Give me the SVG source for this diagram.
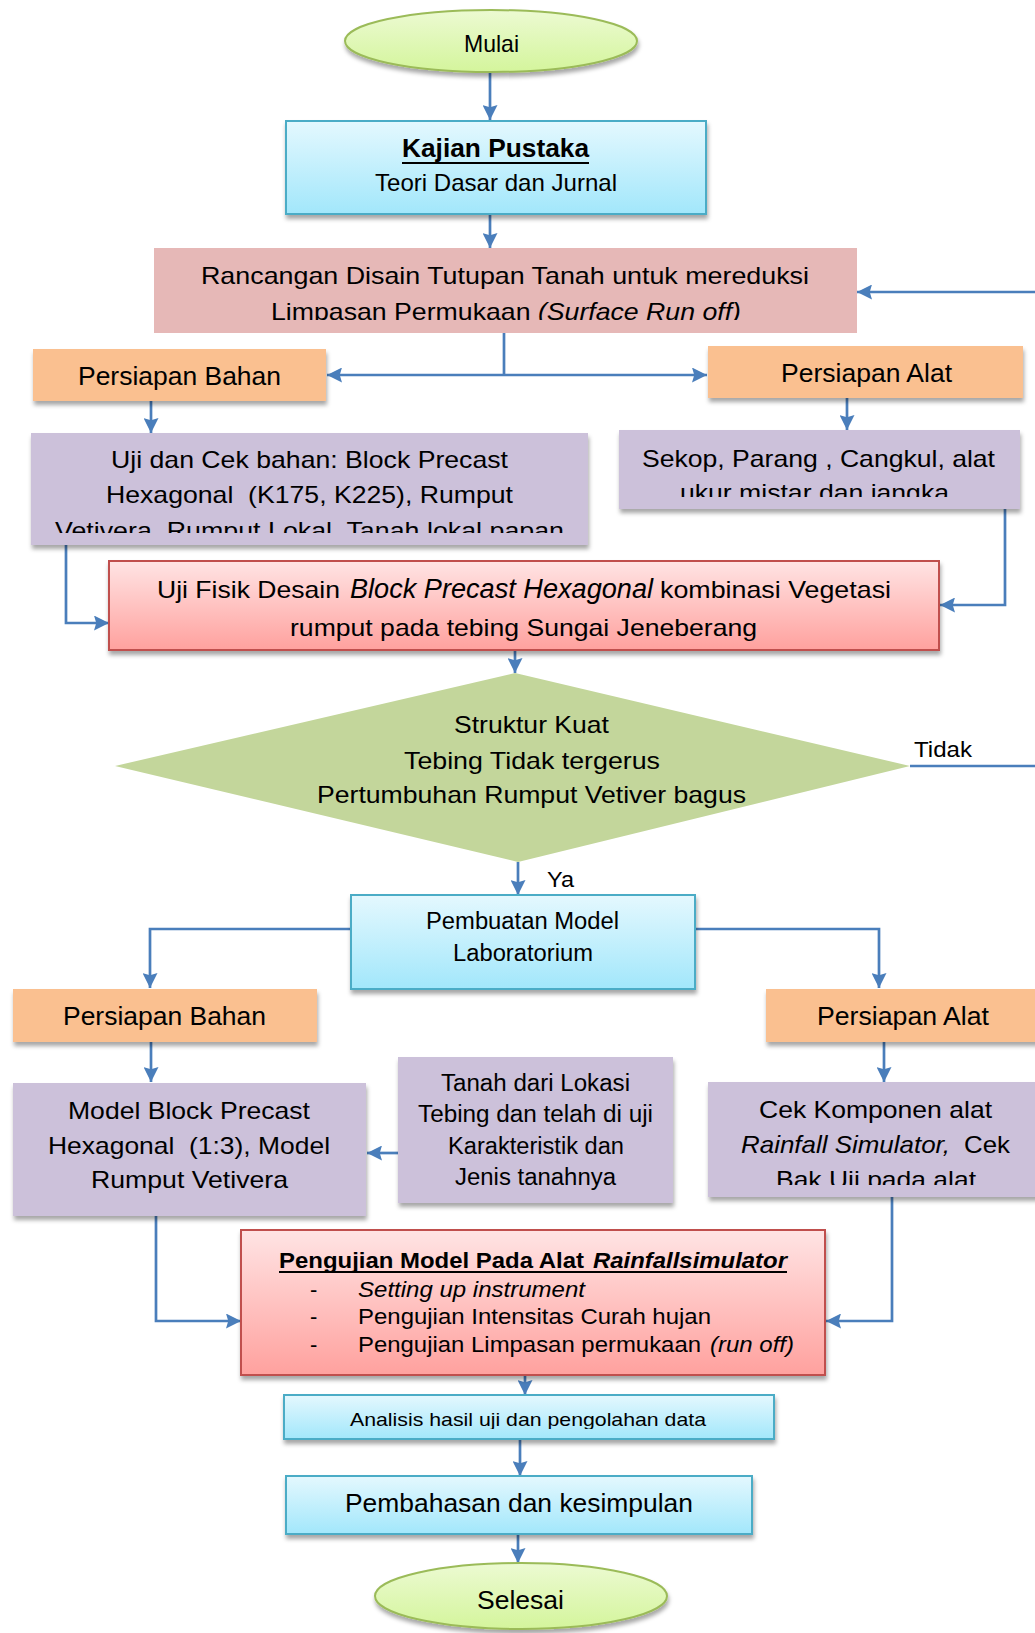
<svg xmlns="http://www.w3.org/2000/svg" width="1035" height="1633" viewBox="0 0 1035 1633">
<defs>
<linearGradient id="gBlue" x1="0" y1="0" x2="0" y2="1"><stop offset="0" stop-color="#e4f8fe"/><stop offset="1" stop-color="#a2e7fb"/></linearGradient>
<linearGradient id="gRed" x1="0" y1="0" x2="0" y2="1"><stop offset="0" stop-color="#ffe4e4"/><stop offset="1" stop-color="#ffa19e"/></linearGradient>
<linearGradient id="gGreen" x1="0" y1="0" x2="0" y2="1"><stop offset="0" stop-color="#ecfad2"/><stop offset="1" stop-color="#d4f59c"/></linearGradient>
<filter id="sh" x="-10%" y="-10%" width="120%" height="135%"><feDropShadow dx="1" dy="4" stdDeviation="2" flood-color="#000" flood-opacity="0.35"/></filter>
<marker id="ah" viewBox="0 0 10 10" refX="10" refY="5" markerWidth="15" markerHeight="15" markerUnits="userSpaceOnUse" orient="auto"><path d="M0,0 L10,5 L0,10 L1.5,5 z" fill="#4a7ebb"/></marker>
<clipPath id="cRan"><rect x="154" y="248" width="703" height="72"/></clipPath>
<clipPath id="cUji"><rect x="31" y="433" width="557" height="100"/></clipPath>
<clipPath id="cSek"><rect x="619" y="430" width="401" height="67"/></clipPath>
<clipPath id="cCek"><rect x="708" y="1082" width="340" height="103"/></clipPath>
<clipPath id="cAna"><rect x="284" y="1395" width="490" height="34"/></clipPath>
</defs>
<style>
text { font-family: "Liberation Sans", Arial, sans-serif; fill: #000; white-space: pre; }
.c { text-anchor: middle; }
.f24 { font-size: 24px; }
.f25 { font-size: 25px; }
.i { font-style: italic; }
.b { font-weight: bold; }
.ln { fill: none; stroke: #4a7ebb; stroke-width: 2.7; }
.ar { marker-end: url(#ah); }
.blue { fill: url(#gBlue); stroke: #4bacc6; stroke-width: 2; filter: url(#sh); }
.red { fill: url(#gRed); stroke: #c0504d; stroke-width: 2; filter: url(#sh); }
.oval { fill: url(#gGreen); stroke: #9bbb59; stroke-width: 2; filter: url(#sh); }
.org { fill: #fac090; filter: url(#sh); }
.pur { fill: #ccc1da; filter: url(#sh); }
.pink { fill: #e6b8b7; }
.dia { fill: #c3d69b; }
.ul { stroke: #000; stroke-width: 2; }
</style>

<g id="connectors">
<path class="ln ar" d="M490,72 L490,120"/>
<path class="ln ar" d="M490,214 L490,248"/>
<path class="ln ar" d="M1035,292 L857,292"/>
<path class="ln" d="M504,333 L504,375"/>
<path class="ln ar" d="M504,375 L327,375"/>
<path class="ln ar" d="M504,375 L707,375"/>
<path class="ln ar" d="M151,401 L151,433"/>
<path class="ln ar" d="M847,398 L847,430"/>
<path class="ln ar" d="M66,545 L66,623 L109,623"/>
<path class="ln ar" d="M1005,508 L1005,605 L940,605"/>
<path class="ln ar" d="M515,650 L515,673"/>
<path class="ln" d="M910,766 L1035,766"/>
<path class="ln ar" d="M518,862 L518,895"/>
<path class="ln ar" d="M350,929 L150,929 L150,988"/>
<path class="ln ar" d="M695,929 L879,929 L879,988"/>
<path class="ln ar" d="M151,1042 L151,1082"/>
<path class="ln ar" d="M884,1042 L884,1082"/>
<path class="ln ar" d="M398,1153 L367,1153"/>
<path class="ln ar" d="M156,1215 L156,1321 L241,1321"/>
<path class="ln ar" d="M892,1197 L892,1321 L826,1321"/>
<path class="ln ar" d="M525,1375 L525,1395"/>
<path class="ln ar" d="M520,1439 L520,1476"/>
<path class="ln ar" d="M518,1534 L518,1563"/>
</g>

<g id="mulai">
<ellipse class="oval" cx="491" cy="41" rx="146" ry="31"/>
<text class="f24 c" x="491.5" y="52" textLength="55" lengthAdjust="spacingAndGlyphs">Mulai</text>
</g>

<g id="kajian">
<rect class="blue" x="286" y="121" width="420" height="93"/>
<text class="b c" x="495.5" y="157" font-size="25" textLength="187" lengthAdjust="spacingAndGlyphs">Kajian Pustaka</text>
<line class="ul" x1="402" y1="163" x2="589" y2="163"/>
<text class="f24 c" x="496" y="191" textLength="242" lengthAdjust="spacingAndGlyphs">Teori Dasar dan Jurnal</text>
</g>

<g id="rancangan">
<rect class="pink" x="154" y="248" width="703" height="85"/>
<g clip-path="url(#cRan)">
<text class="f24 c" x="505" y="284" textLength="608" lengthAdjust="spacingAndGlyphs">Rancangan Disain Tutupan Tanah untuk mereduksi</text>
<text class="f24 c" x="506" y="320" textLength="470" lengthAdjust="spacingAndGlyphs">Limpasan Permukaan <tspan class="i">(Surface Run off)</tspan></text>
</g>
</g>

<g id="persiapan-bahan-1">
<rect class="org" x="33" y="349" width="293" height="52"/>
<text class="f25 c" x="179.5" y="385" textLength="203" lengthAdjust="spacingAndGlyphs">Persiapan Bahan</text>
</g>

<g id="persiapan-alat-1">
<rect class="org" x="708" y="346" width="315" height="52"/>
<text class="f25 c" x="866.5" y="382" textLength="171" lengthAdjust="spacingAndGlyphs">Persiapan Alat</text>
</g>

<g id="uji-cek">
<rect class="pur" x="31" y="433" width="557" height="112"/>
<g clip-path="url(#cUji)">
<text class="f24 c" x="309.5" y="468" textLength="397" lengthAdjust="spacingAndGlyphs">Uji dan Cek bahan: Block Precast</text>
<text class="f24 c" x="309.5" y="503" textLength="407" lengthAdjust="spacingAndGlyphs">Hexagonal  (K175, K225), Rumput</text>
<text class="f24 c" x="309.5" y="539" textLength="509" lengthAdjust="spacingAndGlyphs">Vetivera, Rumput Lokal, Tanah lokal papan</text>
</g>
</g>

<g id="sekop">
<rect class="pur" x="619" y="430" width="401" height="79"/>
<g clip-path="url(#cSek)">
<text class="f24 c" x="818.5" y="467" textLength="353" lengthAdjust="spacingAndGlyphs">Sekop, Parang , Cangkul, alat</text>
<text class="f24 c" x="814.5" y="501" textLength="269" lengthAdjust="spacingAndGlyphs">ukur mistar dan jangka</text>
</g>
</g>

<g id="uji-fisik">
<rect class="red" x="109" y="561" width="830" height="89"/>
<text class="f24" x="157" y="598" textLength="183" lengthAdjust="spacingAndGlyphs">Uji Fisik Desain</text>
<text class="i" x="350" y="598" font-size="27" textLength="303" lengthAdjust="spacingAndGlyphs">Block Precast Hexagonal</text>
<text class="f24" x="660" y="598" textLength="231" lengthAdjust="spacingAndGlyphs">kombinasi Vegetasi</text>
<text class="f24 c" x="523.5" y="636" textLength="467" lengthAdjust="spacingAndGlyphs">rumput pada tebing Sungai Jeneberang</text>
</g>

<g id="keputusan">
<polygon class="dia" points="515,673 910,766 518,862 115,766"/>
<text class="f24 c" x="531.5" y="733" textLength="155" lengthAdjust="spacingAndGlyphs">Struktur Kuat</text>
<text class="f24 c" x="532" y="769" textLength="256" lengthAdjust="spacingAndGlyphs">Tebing Tidak tergerus</text>
<text class="f24 c" x="531.5" y="803" textLength="429" lengthAdjust="spacingAndGlyphs">Pertumbuhan Rumput Vetiver bagus</text>
</g>

<g id="labels">
<text x="914" y="757" font-size="22" textLength="58" lengthAdjust="spacingAndGlyphs">Tidak</text>
<text x="547" y="887" font-size="22" textLength="27" lengthAdjust="spacingAndGlyphs">Ya</text>
</g>

<g id="pembuatan">
<rect class="blue" x="351" y="895" width="344" height="94"/>
<text class="c" x="522.5" y="929" font-size="23" textLength="193" lengthAdjust="spacingAndGlyphs">Pembuatan Model</text>
<text class="c" x="523" y="961" font-size="23" textLength="140" lengthAdjust="spacingAndGlyphs">Laboratorium</text>
</g>

<g id="persiapan-bahan-2">
<rect class="org" x="13" y="989" width="304" height="53"/>
<text class="f25 c" x="164.5" y="1025" textLength="203" lengthAdjust="spacingAndGlyphs">Persiapan Bahan</text>
</g>

<g id="persiapan-alat-2">
<rect class="org" x="766" y="989" width="280" height="53"/>
<text class="f25 c" x="903" y="1025" textLength="172" lengthAdjust="spacingAndGlyphs">Persiapan Alat</text>
</g>

<g id="model-block">
<rect class="pur" x="13" y="1083" width="353" height="133"/>
<text class="f24 c" x="189" y="1119" textLength="242" lengthAdjust="spacingAndGlyphs">Model Block Precast</text>
<text class="f24 c" x="189" y="1154" textLength="282" lengthAdjust="spacingAndGlyphs">Hexagonal  (1:3), Model</text>
<text class="f24 c" x="189.5" y="1188" textLength="197" lengthAdjust="spacingAndGlyphs">Rumput Vetivera</text>
</g>

<g id="tanah">
<rect class="pur" x="398" y="1057" width="275" height="146"/>
<text class="c" x="535.5" y="1091" font-size="23" textLength="189" lengthAdjust="spacingAndGlyphs">Tanah dari Lokasi</text>
<text class="c" x="535.5" y="1122" font-size="23" textLength="235" lengthAdjust="spacingAndGlyphs">Tebing dan telah di uji</text>
<text class="c" x="536" y="1154" font-size="23" textLength="176" lengthAdjust="spacingAndGlyphs">Karakteristik dan</text>
<text class="c" x="535.5" y="1185" font-size="23" textLength="161" lengthAdjust="spacingAndGlyphs">Jenis tanahnya</text>
</g>

<g id="cek-komponen">
<rect class="pur" x="708" y="1082" width="340" height="115"/>
<g clip-path="url(#cCek)">
<text class="f24 c" x="875.5" y="1118" textLength="233" lengthAdjust="spacingAndGlyphs">Cek Komponen alat</text>
<text class="f24 i" x="741" y="1153" textLength="209" lengthAdjust="spacingAndGlyphs">Rainfall Simulator,</text>
<text class="f24" x="964" y="1153" textLength="46" lengthAdjust="spacingAndGlyphs">Cek</text>
<text class="f24 c" x="876" y="1188" textLength="200" lengthAdjust="spacingAndGlyphs">Bak Uji pada alat</text>
</g>
</g>

<g id="pengujian">
<rect class="red" x="241" y="1230" width="584" height="145"/>
<text class="b" x="279" y="1268" font-size="22" textLength="305" lengthAdjust="spacingAndGlyphs">Pengujian Model Pada Alat</text>
<text class="b i" x="593" y="1268" font-size="22" textLength="194" lengthAdjust="spacingAndGlyphs">Rainfallsimulator</text>
<line class="ul" x1="279" y1="1272" x2="787" y2="1272"/>
<text x="310" y="1297" font-size="22">-</text>
<text class="i" x="358" y="1297" font-size="22" textLength="227" lengthAdjust="spacingAndGlyphs">Setting up instrument</text>
<text x="310" y="1324" font-size="22">-</text>
<text x="358" y="1324" font-size="22" textLength="353" lengthAdjust="spacingAndGlyphs">Pengujian Intensitas Curah hujan</text>
<text x="310" y="1352" font-size="22">-</text>
<text x="358" y="1352" font-size="22" textLength="343" lengthAdjust="spacingAndGlyphs">Pengujian Limpasan permukaan</text>
<text class="i" x="710" y="1352" font-size="22" textLength="84" lengthAdjust="spacingAndGlyphs">(run off)</text>
</g>

<g id="analisis">
<rect class="blue" x="284" y="1395" width="490" height="44"/>
<g clip-path="url(#cAna)">
<text class="c" x="528" y="1426" font-size="19" textLength="356" lengthAdjust="spacingAndGlyphs">Analisis hasil uji dan pengolahan data</text>
</g>
</g>

<g id="pembahasan">
<rect class="blue" x="286" y="1476" width="466" height="58"/>
<text class="f25 c" x="519" y="1512" textLength="348" lengthAdjust="spacingAndGlyphs">Pembahasan dan kesimpulan</text>
</g>

<g id="selesai">
<ellipse class="oval" cx="521" cy="1596" rx="146" ry="33"/>
<text class="f25 c" x="520.5" y="1609" textLength="87" lengthAdjust="spacingAndGlyphs">Selesai</text>
</g>
</svg>
